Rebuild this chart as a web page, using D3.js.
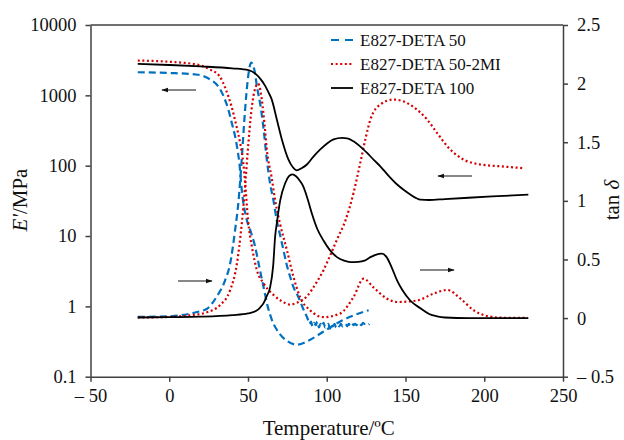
<!DOCTYPE html>
<html>
<head>
<meta charset="utf-8">
<script src="https://cdn.jsdelivr.net/npm/d3@7"></script>
<style>
  body { margin: 0; background: #fff; }
  text { font-family: "Liberation Serif", "Times New Roman", serif; fill: #111; }
</style>
</head>
<body>
<div id="chart"></div>
<script>
var w = 624, h = 440;
var padL = 90.5, padR = 563, padT = 25, padB = 376.7;

// E827-DETA 50 : storage modulus (MPa) and tan delta
var b50T  = [-20, 0, 17, 26, 31, 34.5, 37.5, 39.7, 41.8, 43.3, 44.5, 46, 49.2, 51.5, 54.5, 57, 59.8, 62.5, 65.1, 70.4, 75, 81, 89.5, 98, 108.6, 118, 126.6];
var b50E  = [2130, 2080, 1980, 1680, 1350, 970, 630, 406, 262, 170, 110, 46, 17, 12, 7.1, 3.8, 1.92, 1.0, 0.65, 0.40, 0.32, 0.285, 0.336, 0.44, 0.61, 0.76, 0.88];
var b50tT = [-20, 0, 7, 17, 24, 30, 35.4, 38.6, 41.8, 44, 46, 48, 50, 52, 54, 56, 57.7, 60, 62, 64, 66.2, 68.3, 70.5, 72.5, 74.5, 76.8, 79, 82, 85, 87.4,
             88, 89, 90, 91, 92, 93, 94, 95, 96, 97, 98, 99, 100, 101, 102, 103, 104, 105, 106, 107, 108, 109, 110, 111, 112, 113, 114, 115, 116, 117, 118, 119, 120, 121, 122, 123, 124, 125, 126, 127];
var b50tan = [0.01, 0.015, 0.023, 0.05, 0.08, 0.18, 0.32, 0.46, 0.75, 1.0, 1.35, 1.75, 2.05, 2.18, 2.12, 1.95, 1.83, 1.6, 1.345, 1.15, 1.0, 0.83, 0.7, 0.58, 0.46, 0.35, 0.26, 0.18, 0.08, 0.01,
              -0.01, -0.05, -0.03, -0.07, -0.04, -0.06, -0.03, -0.08, -0.05, -0.07, -0.04, -0.08, -0.06, -0.05, -0.09, -0.06, -0.07, -0.05, -0.08, -0.06, -0.07, -0.05, -0.07, -0.06, -0.05, -0.07, -0.05, -0.06, -0.04, -0.06, -0.05, -0.06, -0.04, -0.05, -0.06, -0.04, -0.05, -0.05, -0.06, -0.05];

// E827-DETA 50-2MI
var miT  = [-20, 0, 17.4, 25.9, 32, 36, 39.5, 42.7, 45, 47, 48.2, 50, 52.5, 55.6, 60, 66, 71, 76.8, 82, 87.4, 93, 98, 102.5, 106.5, 112, 117, 121.3, 124.5, 127.7, 134, 142.5, 148, 155.2, 163.7, 170, 176.5, 185, 197.6, 210.4, 225.2];
var miE  = [3130, 3000, 2740, 2330, 1860, 1200, 700, 363, 211, 110, 57, 17, 7, 3.3, 2.1, 1.47, 1.2, 1.06, 1.15, 1.39, 2.1, 3.3, 5.5, 8.9, 17, 41, 110, 236, 453, 740, 871, 830, 680, 453, 293, 189, 129, 104, 98, 92];
var mitT = [-20, 0, 13, 24, 32, 38.6, 42.9, 46, 48, 50, 52, 54, 56.4, 58.8, 60.5, 62, 65, 67.3, 69.4, 70.4, 74.7, 78.9, 83, 89.5, 98, 108.6, 117, 123.4, 129.8, 138.3, 144.7, 157.4, 168, 176.5, 185, 193.4, 202, 212, 227.4];
var mitan = [0.005, 0.01, 0.023, 0.05, 0.108, 0.236, 0.46, 0.8, 1.1, 1.45, 1.75, 1.93, 2.0, 1.86, 1.65, 1.43, 1.2, 1.0, 0.86, 0.8, 0.58, 0.35, 0.18, 0.066, 0.008, 0.04, 0.18, 0.336, 0.26, 0.165, 0.137, 0.15, 0.21, 0.24, 0.165, 0.066, 0.017, 0.003, 0.003];

// E827-DETA 100
var d100T = [-20, 0, 20, 40, 50.3, 55, 58, 61, 63, 65.1, 68.3, 71.5, 75.7, 78.5, 81, 84, 87.4, 91, 95.9, 100, 104.3, 109.7, 113, 117, 121, 125.6, 130, 134, 139, 144.7, 149, 153, 159.5, 165, 175, 190, 205, 228];
var d100E = [2800, 2700, 2580, 2420, 2275, 2000, 1700, 1350, 1100, 870, 453, 236, 122, 95, 86, 92, 104, 130, 170, 205, 236, 248, 245, 222, 190, 152, 120, 98, 73, 54, 45, 39, 33, 32.5, 33.5, 35, 36.5, 38.8];
var d100tT = [-20, 0, 20, 40, 50, 55, 57.7, 60, 62, 64, 66, 67.2, 68.5, 70.4, 73.6, 76, 78.2, 80.5, 83, 85.2, 88, 90.6, 94, 98, 102, 106.5, 111, 115, 120, 124, 127.7, 131, 135, 138, 141, 144.7, 148, 153, 159.5, 165, 170, 175, 190, 210, 228];
var d100tan = [0.005, 0.008, 0.012, 0.025, 0.04, 0.06, 0.09, 0.13, 0.19, 0.26, 0.45, 0.69, 0.83, 1.0, 1.15, 1.21, 1.226, 1.21, 1.17, 1.12, 1.01, 0.89, 0.76, 0.66, 0.58, 0.52, 0.49, 0.478, 0.48, 0.49, 0.52, 0.54, 0.55, 0.52, 0.44, 0.32, 0.24, 0.15, 0.083, 0.035, 0.015, 0.005, 0.0, 0.0, 0.0];

var xTicks = [-50, 0, 50, 100, 150, 200, 250];
var eTicks = [0.1, 1, 10, 100, 1000, 10000];
var tanTicks = [-0.5, 0, 0.5, 1, 1.5, 2, 2.5];
var legendNames = ["E827-DETA 50", "E827-DETA 50-2MI", "E827-DETA 100"];
var colors = ["#0070c0", "#d40000", "#000000"];

function pairs(xs, ys) { return xs.map(function(d, i) { return [d, ys[i]]; }); }
function minus(s) { return s.replace("-", "\u2013 "); }

var svg = d3.select("#chart").append("svg").attr("width", w).attr("height", h);

var xScale = d3.scaleLinear().domain([-50, 250]).range([padL, padR]);
var yE = d3.scaleLog().domain([0.1, 10000]).range([padB, padT]);
var yTan = d3.scaleLinear().domain([-0.5, 2.5]).range([padB, padT]);

var lineE = d3.line().x(function(d) { return xScale(d[0]); }).y(function(d) { return yE(d[1]); }).curve(d3.curveMonotoneX);
var lineTan = d3.line().x(function(d) { return xScale(d[0]); }).y(function(d) { return yTan(d[1]); }).curve(d3.curveMonotoneX);

var dashes = ["7,4", "2,2.6", null];
var series = [
  {d: pairs(b50T, b50E), f: lineE, s: 0},
  {d: pairs(b50tT, b50tan), f: lineTan, s: 0},
  {d: pairs(miT, miE), f: lineE, s: 1},
  {d: pairs(mitT, mitan), f: lineTan, s: 1},
  {d: pairs(d100T, d100E), f: lineE, s: 2},
  {d: pairs(d100tT, d100tan), f: lineTan, s: 2}
];
series.forEach(function(o) {
  svg.append("path")
    .datum(o.d)
    .attr("fill", "none")
    .attr("stroke", colors[o.s])
    .attr("stroke-width", o.s == 2 ? 1.8 : 2.2)
    .attr("stroke-dasharray", dashes[o.s])
    .attr("d", o.f);
});

// axes
var axisColor = "#404040";
var xAxis = d3.axisBottom(xScale).tickValues(xTicks).tickSize(5).tickSizeOuter(0).tickPadding(7)
  .tickFormat(function(d) { return minus(String(d)); });
var gx = svg.append("g").attr("transform", "translate(0," + padB + ")").call(xAxis);

var yAxisL = d3.axisLeft(yE).tickValues(eTicks).tickSize(5).tickSizeOuter(0).tickPadding(9)
  .tickFormat(function(d) { return String(d); });
var gl = svg.append("g").attr("transform", "translate(" + padL + ",0)").call(yAxisL);

var yAxisR = d3.axisRight(yTan).tickValues(tanTicks).tickSize(5).tickSizeOuter(0).tickPadding(9)
  .tickFormat(function(d) { return minus(String(d)); });
var gr = svg.append("g").attr("transform", "translate(" + padR + ",0)").call(yAxisR);

[gx, gl, gr].forEach(function(g) {
  g.selectAll("path, line").attr("stroke", axisColor).attr("stroke-width", 1.5);
  g.selectAll("text").attr("fill", "#111")
    .style("font-family", "'Liberation Serif', 'Times New Roman', serif")
    .style("font-size", "18.5px");
});
svg.append("line").attr("x1", padL).attr("x2", padR).attr("y1", padT).attr("y2", padT)
  .attr("stroke", axisColor).attr("stroke-width", 1.5);

// axis titles
svg.append("text").attr("x", (padL + padR) / 2 + 2).attr("y", 435)
  .attr("text-anchor", "middle").style("font-size", "21px").text("Temperature/ºC");

var lt = svg.append("text").attr("transform", "translate(27,200) rotate(-90)")
  .attr("text-anchor", "middle").style("font-size", "21px");
lt.append("tspan").style("font-style", "italic").text("E'");
lt.append("tspan").text("/MPa");

var rt = svg.append("text").attr("transform", "translate(619,200) rotate(-90)")
  .attr("text-anchor", "middle").style("font-size", "21px");
rt.append("tspan").text("tan ");
rt.append("tspan").style("font-style", "italic").text("δ");

// legend
var leg = svg.append("g").attr("transform", "translate(331,40)");
legendNames.forEach(function(name, i) {
  var y = i * 24;
  leg.append("line").attr("x1", 0).attr("x2", 22).attr("y1", y).attr("y2", y)
    .attr("stroke", colors[i]).attr("stroke-width", i == 2 ? 1.8 : 2.2)
    .attr("stroke-dasharray", i == 0 ? "8,6" : dashes[i]);
  leg.append("text").attr("x", 29).attr("y", y + 6).style("font-size", "17px").text(name);
});

// arrows
svg.append("defs").append("marker")
  .attr("id", "head").attr("viewBox", "0 0 10 10").attr("refX", 9).attr("refY", 5)
  .attr("markerWidth", 7).attr("markerHeight", 7).attr("orient", "auto")
  .append("path").attr("d", "M0,1.5L10,5L0,8.5Z").attr("fill", "#111");
var arrows = [[196, 90, 162, 90], [178, 281, 212, 281], [420, 270, 454, 270], [472, 176, 438, 176]];
arrows.forEach(function(a) {
  svg.append("line").attr("x1", a[0]).attr("y1", a[1]).attr("x2", a[2]).attr("y2", a[3])
    .attr("stroke", "#111").attr("stroke-width", 1).attr("marker-end", "url(#head)");
});
</script>
</body>
</html>
